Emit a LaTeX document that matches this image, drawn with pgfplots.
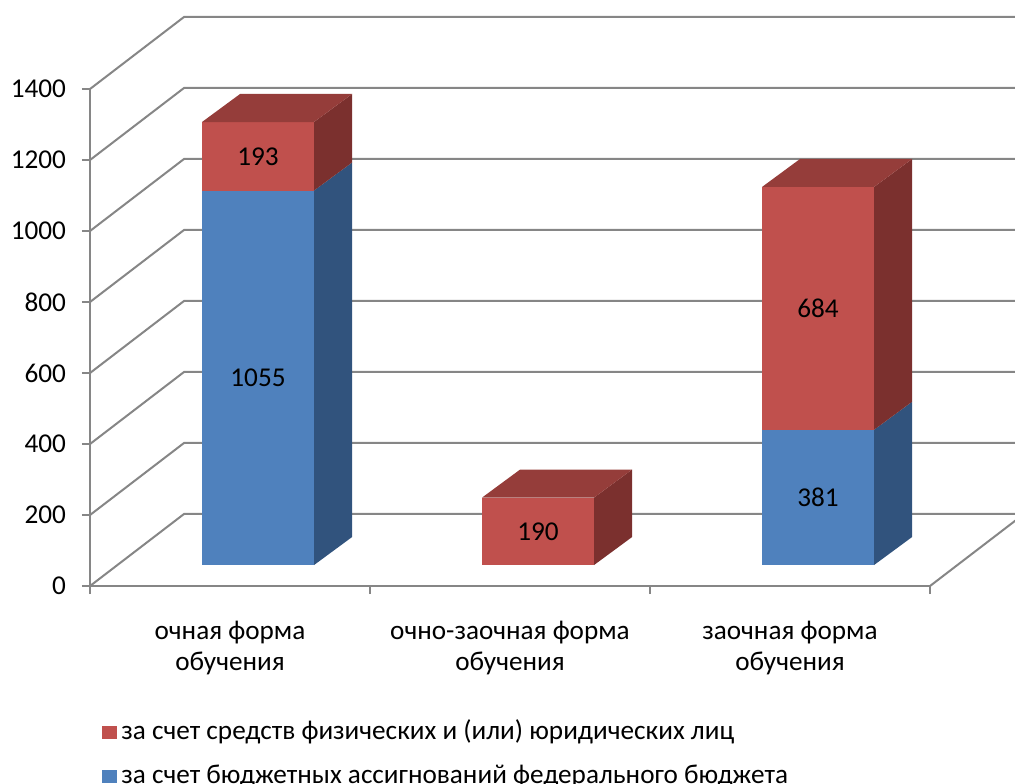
\documentclass[border=0pt]{standalone}
\usepackage{pgfplots}
\pgfplotsset{compat=1.18}
\usepackage{fontspec}
\setmainfont{Carlito}
\definecolor{bfront}{HTML}{4F81BD}
\definecolor{bside}{HTML}{31537D}
\definecolor{rfront}{HTML}{C0504D}
\definecolor{rtop}{HTML}{953D3A}
\definecolor{rside}{HTML}{7B302E}
\definecolor{gridc}{HTML}{868686}
\newcommand{\cf}{\fontsize{13.6}{15.5}\selectfont}
\begin{document}
\begin{tikzpicture}[font=\cf]
\useasboundingbox (-45pt,-98.5pt) rectangle (462.5pt,293pt);
\begin{axis}[
  scale only axis, width=420pt, height=248.5pt,
  xmin=-0.5, xmax=2.5, ymin=0, ymax=1400,
  clip=false, no markers,
  axis x line*=bottom, axis y line*=left,
  axis line style={gridc, line width=1pt, -},
  tick style={gridc, line width=1pt},
  major tick length=4pt, tick align=outside,
  ytick={0,200,...,1400},
  /pgf/number format/assume math mode=true,
  /pgf/number format/1000 sep={},
  yticklabel style={font=\cf, xshift=-4.5pt},
  xtick={-0.5,0.5,1.5,2.5}, xticklabels={},
  extra x ticks={0,1,2},
  extra x tick labels={{очная форма\\обучения},{очно-заочная форма\\обучения},{заочная форма\\обучения}},
  extra x tick style={major tick length=0pt, xticklabel style={align=center, font=\cf, yshift=-14pt}},
  legend style={at={(0.0143,-0.2635)}, anchor=north west, draw=none, fill=none, inner sep=0pt,
    row sep=6.5pt, column sep=1pt,
    nodes={inner sep=1pt, text height=10pt, text depth=3.5pt, font=\cf}},
  legend cell align=left,
  legend image code/.code={\fill[#1] (0pt,-3pt) rectangle (7.5pt,3.6pt);},
]
% back wall / floor grid
\addplot[forget plot, gridc, line width=1pt] coordinates {(-0.5,0) (-0.164,203) (2.836,203)};
\addplot[forget plot, gridc, line width=1pt] coordinates {(2.5,0) (2.836,203)};
\addplot[forget plot, gridc, line width=1pt] coordinates {(-0.5,200) (-0.164,403) (2.836,403)};
\addplot[forget plot, gridc, line width=1pt] coordinates {(-0.5,400) (-0.164,603) (2.836,603)};
\addplot[forget plot, gridc, line width=1pt] coordinates {(-0.5,600) (-0.164,803) (2.836,803)};
\addplot[forget plot, gridc, line width=1pt] coordinates {(-0.5,800) (-0.164,1003) (2.836,1003)};
\addplot[forget plot, gridc, line width=1pt] coordinates {(-0.5,1000) (-0.164,1203) (2.836,1203)};
\addplot[forget plot, gridc, line width=1pt] coordinates {(-0.5,1200) (-0.164,1403) (2.836,1403)};
\addplot[forget plot, gridc, line width=1pt] coordinates {(-0.5,1400) (-0.164,1603) (2.836,1603)};
% bar 1: blue 1055, red 193 (base 59)
\addplot[forget plot, fill=bfront, draw=none] coordinates {(-0.1,59) (0.3,59) (0.3,1114) (-0.1,1114)} -- cycle;
\addplot[forget plot, fill=rfront, draw=none] coordinates {(-0.1,1114) (0.3,1114) (0.3,1307) (-0.1,1307)} -- cycle;
\addplot[forget plot, fill=bside, draw=none] coordinates {(0.3,59) (0.436,138) (0.436,1193) (0.3,1114)} -- cycle;
\addplot[forget plot, fill=rside, draw=none] coordinates {(0.3,1114) (0.436,1193) (0.436,1386) (0.3,1307)} -- cycle;
\addplot[forget plot, fill=rtop, draw=none] coordinates {(-0.1,1307) (0.3,1307) (0.436,1386) (0.036,1386)} -- cycle;
% bar 2: red 190
\addplot[forget plot, fill=rfront, draw=none] coordinates {(0.9,59) (1.3,59) (1.3,249) (0.9,249)} -- cycle;
\addplot[forget plot, fill=rside, draw=none] coordinates {(1.3,59) (1.436,138) (1.436,328) (1.3,249)} -- cycle;
\addplot[forget plot, fill=rtop, draw=none] coordinates {(0.9,249) (1.3,249) (1.436,328) (1.036,328)} -- cycle;
% bar 3: blue 381, red 684
\addplot[forget plot, fill=bfront, draw=none] coordinates {(1.9,59) (2.3,59) (2.3,440) (1.9,440)} -- cycle;
\addplot[forget plot, fill=rfront, draw=none] coordinates {(1.9,440) (2.3,440) (2.3,1124) (1.9,1124)} -- cycle;
\addplot[forget plot, fill=bside, draw=none] coordinates {(2.3,59) (2.436,138) (2.436,519) (2.3,440)} -- cycle;
\addplot[forget plot, fill=rside, draw=none] coordinates {(2.3,440) (2.436,519) (2.436,1203) (2.3,1124)} -- cycle;
\addplot[forget plot, fill=rtop, draw=none] coordinates {(1.9,1124) (2.3,1124) (2.436,1203) (2.036,1203)} -- cycle;
% value labels
\node at (axis cs:0.1,586) {1055};
\node at (axis cs:0.1,1210) {193};
\node at (axis cs:1.1,154) {190};
\node at (axis cs:2.1,249) {381};
\node at (axis cs:2.1,782) {684};
\addlegendimage{fill=rfront, draw=none}
\addlegendentry{за счет средств физических и (или) юридических лиц}
\addlegendimage{fill=bfront, draw=none}
\addlegendentry{за счет бюджетных ассигнований федерального бюджета}
\end{axis}
\end{tikzpicture}
\end{document}
